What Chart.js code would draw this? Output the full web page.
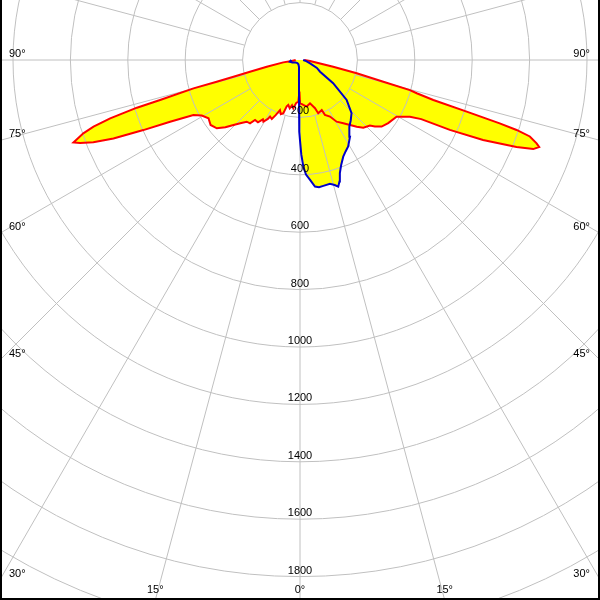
<!DOCTYPE html>
<html>
<head>
<meta charset="utf-8">
<script src="https://cdn.jsdelivr.net/npm/chart.js@4"></script>
<style>
  body { margin: 0; background: #fff; }
  canvas { display: block; }
</style>
</head>
<body>
<canvas id="myChart" width="600" height="600"></canvas>
<script>
// C0-C180 plane (red), angle in degrees (negative = left), intensity in cd/klm
var redAngles = [-90, -83, -82, -78.6, -76.8, -75.9, -75.4, -75.1, -74.05, -73.7, -72.9, -72.1, -71.3, -70,
  -69.3, -68.3, -67.2, -65.9, -64.6, -62.7, -60.5, -57.5, -54, -50.6, -48, -45.7, -43, -40.8, -38.3, -36.9,
  -34, -32, -30.7, -28.6, -27.9, -25.5, -23.8, -21.8, -19.5, -17.4, -16, -14.6, -12, -10, -7.9, -5, -2.3, -1, 0,
  4.2, 8.2, 13, 17.3, 18.9, 23.5, 24.4, 27.9, 30.7, 34.4, 37.6, 40.4, 43.1, 46.8, 48.4, 50.8, 54.4, 59.6, 61.2,
  62.7, 64, 65, 66.4, 68.1, 69.1, 70, 70.6, 71.6, 72.1, 72.4, 72.8, 73.3, 74.1, 74.7, 75.4, 76.8, 78.6, 84.3, 90];
var redValues = [15, 29, 59, 118, 179, 239, 300, 384, 507, 592, 692, 756, 797, 840,
  819, 775, 705, 598, 501, 418, 393, 378, 385, 375, 350, 324, 300, 284, 281, 261,
  262, 244, 250, 234, 223, 228, 210, 188, 200, 194, 168, 162, 172, 160, 170, 150, 145, 110, 150,
  157, 164, 155, 176, 196, 190, 210, 223, 250, 267, 286, 305, 323, 334, 349, 367, 378, 390, 410,
  431, 470, 576, 696, 813, 870, 887, 874, 844, 793, 730, 608, 485, 423, 397, 300, 203, 118, 35, 15];

// C90-C270 plane (blue)
var blueAngles = [-90, -80, -72, -60, -40, -20, -8, -5.7, -2.9, -1.4, -0.95, -0.4, 0, 0.8, 1.8, 3, 4.8, 6.75,
  8.5, 10.5, 13.6, 15.5, 16.8, 18, 19.4, 21.5, 24.1, 26.5, 29.1, 33.1, 36.5, 40, 44.1, 49.4, 55, 59.7, 65,
  71.7, 80, 90];
var blueValues = [30, 36, 28, 18, 14, 16, 25, 35, 70, 139, 209, 250, 280, 330, 372, 400, 419, 444,
  448, 446, 444, 452, 461, 445, 418, 392, 369, 356, 345, 319, 289, 275, 258, 214, 141, 81, 65,
  37, 22, 11];

var ringValues = [200, 400, 600, 800, 1000, 1200, 1400, 1600, 1800, 2000, 2200];
var ringLabels = ["200", "400", "600", "800", "1000", "1200", "1400", "1600", "1800"];
var angleLabels = [90, 75, 60, 45, 30, 15, 0];

function toPoints(angles, values) {
  var pts = [];
  for (var i = 0; i < angles.length; i++) {
    var a = angles[i] * Math.PI / 180;
    pts.push({ x: values[i] * Math.sin(a), y: -values[i] * Math.cos(a) });
  }
  return pts;
}

var k = 0.287; // px per cd/klm
var polarGrid = {
  id: 'polarGrid',
  beforeDatasetsDraw: function(chart) {
    var ctx = chart.ctx, xs = chart.scales.x, ys = chart.scales.y;
    var cx = xs.getPixelForValue(0), cy = ys.getPixelForValue(0);
    var ppu = (xs.getPixelForValue(1000) - cx) / 1000;
    ctx.save();
    ctx.strokeStyle = '#c0c0c0';
    ctx.lineWidth = 1;
    ringValues.forEach(function(v) {
      ctx.beginPath();
      ctx.arc(cx, cy, v * ppu, 0, Math.PI * 2);
      ctx.stroke();
    });
    var r0 = ringValues[0] * ppu;
    for (var d = 0; d < 360; d += 15) {
      var a = d * Math.PI / 180;
      ctx.beginPath();
      ctx.moveTo(cx + r0 * Math.sin(a), cy + r0 * Math.cos(a));
      ctx.lineTo(cx + 900 * Math.sin(a), cy + 900 * Math.cos(a));
      ctx.stroke();
    }
    ctx.restore();
  },
  afterDatasetsDraw: function(chart) {
    var ctx = chart.ctx, xs = chart.scales.x, ys = chart.scales.y;
    var cx = xs.getPixelForValue(0), cy = ys.getPixelForValue(0);
    var ppu = (xs.getPixelForValue(1000) - cx) / 1000;
    var W = chart.width, H = chart.height;
    ctx.save();
    ctx.fillStyle = '#000';
    ctx.font = '11px "Liberation Sans", Arial, sans-serif';
    ctx.textAlign = 'center';
    ctx.textBaseline = 'alphabetic';
    ringLabels.forEach(function(t, i) {
      ctx.fillText(t, cx, cy + ringValues[i] * ppu - 3);
    });
    angleLabels.forEach(function(d) {
      var a = d * Math.PI / 180;
      [-1, 1].forEach(function(side) {
        if (d === 0 && side === 1) return;
        var sx = Math.sin(a) * side, sy = Math.cos(a);
        var tSide = sx !== 0 ? (side < 0 ? -cx / sx : (W - cx) / sx) : Infinity;
        var tBot = sy > 1e-6 ? (H - cy) / sy : Infinity;
        var txt = d + '\u00b0';
        if (tSide <= tBot) {
          var yHit = cy + tSide * sy;
          ctx.textAlign = side < 0 ? 'left' : 'right';
          ctx.fillText(txt, side < 0 ? 9 : W - 10, yHit - 3);
        } else {
          ctx.textAlign = 'center';
          ctx.fillText(txt, cx + tBot * sx, H - 7);
        }
      });
    });
    ctx.fillRect(0, 0, 2, H);
    ctx.fillRect(W - 2, 0, 2, H);
    ctx.fillRect(0, H - 2, W, 2);
    ctx.restore();
  }
};

new Chart("myChart", {
  type: 'scatter',
  data: {
    datasets: [{
      data: toPoints(redAngles, redValues),
      showLine: true,
      borderColor: '#ff0000',
      backgroundColor: '#ffff00',
      borderWidth: 2,
      pointRadius: 0,
      tension: 0,
      fill: 'shape',
      order: 2
    }, {
      data: toPoints(blueAngles, blueValues),
      showLine: true,
      borderColor: '#0000c8',
      backgroundColor: '#ffff00',
      borderWidth: 2,
      pointRadius: 0,
      tension: 0,
      fill: 'shape',
      order: 1
    }]
  },
  options: {
    responsive: false,
    animation: false,
    layout: { padding: 0 },
    scales: {
      x: { type: 'linear', display: false, min: -300 / k, max: 300 / k },
      y: { type: 'linear', display: false, min: -540 / k, max: 60 / k }
    },
    plugins: {
      legend: { display: false },
      tooltip: { enabled: false },
      filler: { drawTime: 'beforeDatasetsDraw' }
    }
  },
  plugins: [polarGrid]
});
</script>
</body>
</html>
